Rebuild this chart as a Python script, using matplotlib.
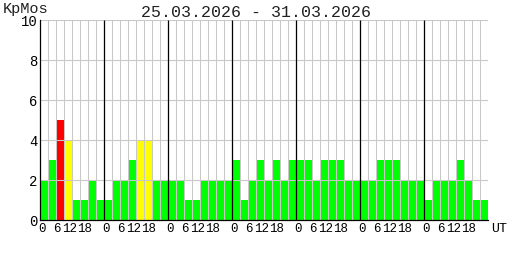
import matplotlib.pyplot as plt
import numpy as np

# Kp index, 3-hour intervals, 25.03.2026 - 31.03.2026
days = ['25.03', '26.03', '27.03', '28.03', '29.03', '30.03', '31.03']
kp = [2, 3, 5, 4, 1, 1, 2, 1,
      1, 2, 2, 3, 4, 4, 2, 2,
      2, 2, 1, 1, 2, 2, 2, 2,
      3, 1, 2, 3, 2, 3, 2, 3,
      3, 3, 2, 3, 3, 3, 2, 2,
      2, 2, 3, 3, 3, 2, 2, 2,
      1, 2, 2, 2, 3, 2, 1, 1]
hour_labels = ['0', '6', '12', '18']
hour_offsets = [0.2, 2.05, 3.65, 5.6]   # label positions inside one day (bar units)
yticks = [0, 2, 4, 6, 8, 10]

def kp_color(v):
    if v >= 5:
        return '#ff0000'
    if v >= 4:
        return '#ffff00'
    return '#00ff00'

mono = 'Liberation Mono'
n = len(kp)
per_day = n // len(days)

fig = plt.figure(figsize=(5.08, 2.6), dpi=100)
ax = fig.add_axes([40 / 508, 40 / 260, 448 / 508, 200 / 260])

x = np.arange(n)
ax.bar(x, kp, width=1.0, align='edge', color=[kp_color(v) for v in kp],
       linewidth=0, zorder=1)

# gray grid over the bars
ax.vlines(np.arange(1, n + 1), 0, 10, color='#c8c8c8', linewidth=0.75, zorder=2)
ax.hlines(yticks[1:], 0, n, color='#c8c8c8', linewidth=0.75, zorder=2)
# day separators
ax.vlines(np.arange(per_day, n, per_day), 0, 10, color='black', linewidth=0.9, zorder=3)

ax.set_xlim(0, n)
ax.set_ylim(0, 10)
for s in ['top', 'right']:
    ax.spines[s].set_visible(False)
for s in ['left', 'bottom']:
    ax.spines[s].set_linewidth(0.9)
    ax.spines[s].set_zorder(4)

ax.set_yticks(yticks)
ax.set_yticklabels([str(t) for t in yticks], fontfamily=mono, fontsize=10)
ax.tick_params(axis='y', length=0, pad=2)

xt, xl = [], []
for d in range(len(days)):
    for off, lab in zip(hour_offsets, hour_labels):
        xt.append(d * per_day + off)
        xl.append(lab)
ax.set_xticks(xt)
ax.set_xticklabels(xl, fontfamily=mono, fontsize=9)
ax.tick_params(axis='x', length=0, pad=2.5)
ax.text(n + 1.4, -0.16, 'UT', fontfamily=mono, fontsize=9.5, ha='center',
        va='top', clip_on=False)

fig.text(3 / 508, 1 - 9 / 260, 'KpMos', fontfamily=mono, fontsize=11,
         ha='left', va='center', color='#202020')
fig.text(256 / 508, 1 - 12 / 260, days[0] + '.2026 - ' + days[-1] + '.2026',
         fontfamily=mono, fontsize=12, ha='center', va='center', color='#202020')

fig.savefig('out.png', dpi=100)
